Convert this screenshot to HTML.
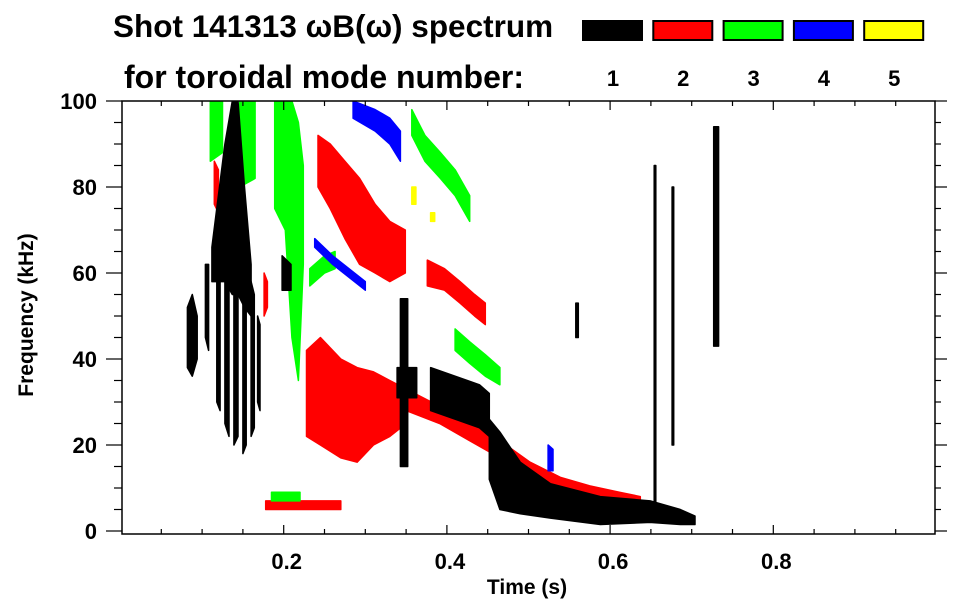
<!DOCTYPE html>
<html><head><meta charset="utf-8">
<style>
html,body{margin:0;padding:0;background:#fff;}
svg{display:block;font-family:"Liberation Sans",Arial,sans-serif;font-weight:bold;}
</style></head>
<body>
<svg id="chart" width="963" height="615" viewBox="0 0 963 615" xmlns="http://www.w3.org/2000/svg">
  <text x="113" y="37" font-size="31.5">Shot 141313 ωB(ω) spectrum</text>
  <text x="124" y="88" font-size="32">for toroidal mode number:</text>
  <g id="legend"></g>
  <g id="plot"></g>
  <g id="axes"></g>
  <text x="527" y="594" font-size="21" text-anchor="middle">Time (s)</text>
  <text x="0" y="0" font-size="21" text-anchor="middle" transform="translate(33,315) rotate(-90)">Frequency (kHz)</text>
</svg>
<script>
// ---- data ----
const modeNumbers = [1, 2, 3, 4, 5];
const modeColors = ["#000000", "#ff0000", "#00ff00", "#0000ff", "#ffff00"];
const xTicksMajor = [0.2, 0.4, 0.6, 0.8];
const xTickLabels = ["0.2", "0.4", "0.6", "0.8"];
const yTicksMajor = [0, 20, 40, 60, 80, 100];
const yTickLabels = ["0", "20", "40", "60", "80", "100"];

// Bands: each is a list of [time (s), freqLow (kHz), freqHigh (kHz)]
const mode2Bands = [
  [[0.242,80,92],[0.257,75,90],[0.275,68,86],[0.293,62,82],[0.312,60,76],[0.33,58,72],[0.349,60,70]],
  [[0.376,57,63],[0.397,56,61],[0.416,53,58],[0.434,50,55],[0.447,48,53]],
  [[0.228,22,42],[0.245,20,45],[0.27,17,40],[0.29,16,38],[0.31,20,37],[0.33,22,35],[0.35,25,33]],
  [[0.35,28,33],[0.391,25,29],[0.428,21,25],[0.465,17,21],[0.502,13,16],[0.539,10,12.5],[0.575,8,10.5],[0.612,7,9],[0.637,6,8]],
  [[0.115,76,86],[0.12,74,84]],
  [[0.13,62,80],[0.135,64,78]],
  [[0.176,50,60],[0.18,52,58]],
  [[0.178,5,7],[0.27,5,7]]
];
const mode3Bands = [
  [[0.11,86,100],[0.125,88,100]],
  [[0.146,80,100],[0.165,82,100]],
  [[0.189,75,100],[0.202,70,100],[0.21,45,100],[0.218,35,95],[0.224,62,85]],
  [[0.232,57,61],[0.25,60,64],[0.263,61,65]],
  [[0.357,92,98],[0.373,86,92],[0.392,82,88],[0.41,78,84],[0.428,72,78]],
  [[0.41,42,47],[0.428,39,44],[0.447,36,41],[0.465,34,38]],
  [[0.185,7,9],[0.22,7,9]]
];
const mode4Bands = [
  [[0.285,96,100],[0.312,93,98],[0.33,90,96],[0.343,86,93]],
  [[0.238,66,68],[0.26,62,64],[0.3,56,58]],
  [[0.524,14,20],[0.53,14,19]]
];
const mode5Bands = [
  [[0.357,76,80],[0.362,76,80]],
  [[0.38,72,74],[0.385,72,74]]
];
const mode1Bands = [
  [[0.082,38,52],[0.088,36,55],[0.094,40,50]],
  [[0.112,58,66],[0.12,58,78],[0.128,58,90],[0.137,55,100],[0.144,55,100],[0.152,52,80],[0.16,50,62]],
  [[0.104,45,62],[0.108,42,62]],
  [[0.118,30,62],[0.122,28,60]],
  [[0.128,25,60],[0.133,22,58]],
  [[0.139,20,58],[0.144,22,56]],
  [[0.15,18,55],[0.154,20,52]],
  [[0.16,22,58],[0.164,24,55]],
  [[0.168,30,50],[0.171,28,48]],
  [[0.198,56,64],[0.209,56,62]],
  [[0.343,15,54],[0.352,15,54]],
  [[0.339,31,38],[0.363,31,38]],
  [[0.38,28,38],[0.41,26,36],[0.44,24,34],[0.452,22,32]],
  [[0.452,12,26],[0.465,5,23],[0.49,4,16],[0.527,3,11],[0.588,1.5,8],[0.649,2,7],[0.686,1.5,5],[0.704,1.5,3.5]],
  [[0.727,43,94],[0.733,43,94]],
  [[0.558,45,53],[0.561,45,53]],
  [[0.654,5,85],[0.656,5,85]],
  [[0.676,20,80],[0.678,20,80]]
];
const bandsByMode = [mode1Bands, mode2Bands, mode3Bands, mode4Bands, mode5Bands];

// ---- scales ----
const X0 = 122, X1 = 935, Y0 = 101, Y1 = 534;
function xs(t){ return 120.5 + 816 * t; }
function ys(f){ return 531 - 4.3 * f; }

const NS = "http://www.w3.org/2000/svg";
function mk(tag, attrs){ const e = document.createElementNS(NS, tag); for (const k in attrs) e.setAttribute(k, attrs[k]); return e; }

const svg = document.getElementById('chart');
const defs = mk('defs', {});
const cp = mk('clipPath', {id:'clip'});
cp.appendChild(mk('rect', {x:X0, y:Y0, width:X1-X0, height:Y1-Y0}));
defs.appendChild(cp);
svg.insertBefore(defs, svg.firstChild);

// ---- plot bands ----
const plot = document.getElementById('plot');
plot.setAttribute('clip-path', 'url(#clip)');
const drawOrder = [1, 2, 3, 4, 0];
drawOrder.forEach(function(mi){
  bandsByMode[mi].forEach(function(band, bi){
    const up = band.map(function(p){ return xs(p[0]).toFixed(1) + ',' + ys(p[2]).toFixed(1); });
    const lo = band.slice().reverse().map(function(p){ return xs(p[0]).toFixed(1) + ',' + ys(p[1]).toFixed(1); });
    const poly = mk('polygon', {points: up.concat(lo).join(' '), fill: modeColors[mi], stroke: modeColors[mi], 'stroke-width': 1.5, 'stroke-linejoin': 'round'});
    
    
    plot.appendChild(poly);
  });
});

// ---- axes ----
const axes = document.getElementById('axes');
const frame = mk('rect', {x:X0, y:Y0, width:X1-X0, height:Y1-Y0, fill:'none', stroke:'#000', 'stroke-width':1.5});


axes.appendChild(frame);

for (let k = 1; k < 20; k++) {
  const t = k * 0.05;
  const x = xs(t);
  const major = k % 4 === 0;
  const L = major ? 9 : 5;
  const tb = mk('line', {x1:x, x2:x, y1:Y1, y2:Y1 - L, stroke:'#000', 'stroke-width':1.2});
  
  
  axes.appendChild(tb);
  const tt = mk('line', {x1:x, x2:x, y1:Y0, y2:Y0 + L, stroke:'#000', 'stroke-width':1.2});
  
  
  axes.appendChild(tt);
}
xTicksMajor.forEach(function(t, i){
  const tx = mk('text', {x: xs(t) + 3, y: 569, 'font-size': 22, 'text-anchor': 'middle'});
  
  
  tx.textContent = xTickLabels[i];
  axes.appendChild(tx);
});
for (let f = 0; f <= 100; f += 5) {
  const y = ys(f);
  const major = f % 20 === 0;
  const L = major ? 16 : 8;
  const tl = mk('line', {x1:X0, x2:X0 - L, y1:y, y2:y, stroke:'#000', 'stroke-width':1.2});
  
  
  axes.appendChild(tl);
  const tr = mk('line', {x1:X1, x2:X1 + (major ? 12 : 6), y1:y, y2:y, stroke:'#000', 'stroke-width':1.2});
  
  
  axes.appendChild(tr);
}
yTicksMajor.forEach(function(f, i){
  const tx = mk('text', {x: 97, y: ys(f) + 8, 'font-size': 22, 'text-anchor': 'end'});
  
  
  tx.textContent = yTickLabels[i];
  axes.appendChild(tx);
});

// ---- legend ----
const legend = document.getElementById('legend');
modeNumbers.forEach(function(m, i){
  const bx = 583 + i * 70.3;
  const r = mk('rect', {x: bx, y: 21, width: 59, height: 19, fill: modeColors[i], stroke: '#000', 'stroke-width': 2});
  
  
  legend.appendChild(r);
  const tx = mk('text', {x: bx + 30, y: 86, 'font-size': 22, 'text-anchor': 'middle'});
  
  
  tx.textContent = String(m);
  legend.appendChild(tx);
});
</script>
</body></html>
